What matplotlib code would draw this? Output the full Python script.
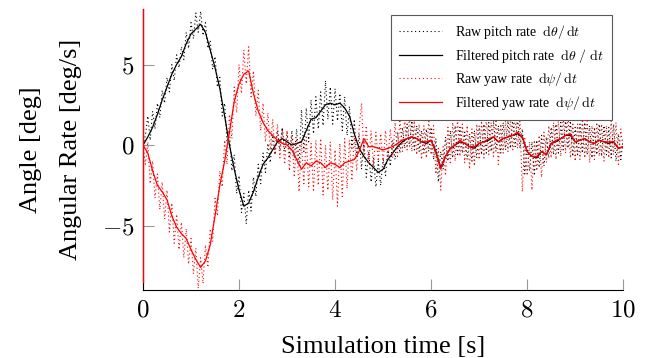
import numpy as np
import matplotlib
matplotlib.use('Agg')
import matplotlib.pyplot as plt

# ---- data (deg/s) ----
raw_dt = 0.05
filt_dt = 0.1

raw_pitch = [
    0.0, 0.6, 1.8, 0.3, 2.1, 1.0, 2.6, 1.7, 3.4, 2.6,
    4.2, 3.3, 5.0, 4.0, 5.6, 4.8, 6.1, 5.3, 7.0, 6.0,
    7.6, 6.6, 8.2, 7.0, 8.3, 6.8, 7.6, 6.0, 6.5, 4.7,
    5.5, 3.6, 4.2, 1.8, 2.6, 0.2, 0.9, -1.6, -0.6, -3.0,
    -1.9, -4.2, -3.0, -4.9, -2.8, -4.1, -2.0, -3.2, -1.2, -2.4,
    -0.5, -1.7, 0.1, -1.1, 0.6, -0.6, 0.9, -0.3, 1.1, -0.4,
    0.8, -0.7, 0.9, -0.8, 1.0, -1.3, 2.2, -0.4, 2.3, 0.2,
    2.8, 0.7, 3.0, 1.0, 3.3, 1.2, 4.0, 1.6, 3.6, 1.3,
    3.5, 1.5, 3.2, 0.9, 3.0, 0.6, 2.4, -0.2, 1.6, -0.8,
    0.7, -1.5, 0.2, -2.0, -0.4, -2.3, -0.8, -2.6, -1.0, -2.5,
    -0.8, -1.9, -0.2, -1.3, 0.3, -0.9, 0.8, -0.5, 1.1, -0.2,
    1.3, -0.1, 1.5, -0.3, 1.2, -0.4, 0.9, -0.5, 1.0, -0.4,
    1.1, -0.9, 0.4, -2.3, -0.4, -1.5, 0.5, -1.0, 0.9, -0.8,
    1.2, -0.7, 1.1, -0.5, 0.8, -0.9, 0.7, -1.0, 0.9, -0.8,
    1.2, -0.6, 1.3, -0.5, 1.4, -0.4, 1.5, -0.4, 1.2, -0.5,
    1.4, -0.3, 1.5, -0.2, 1.6, -0.1, 1.7, -0.2, 1.0, -1.8,
    -0.1, -1.6, 0.2, -1.9, 0.3, -1.4, 0.6, -1.3, 0.5, -0.8,
    1.1, -0.6, 1.3, -0.5, 1.4, -0.3, 1.6, -0.2, 1.5, -0.7,
    1.1, -0.6, 1.3, -0.5, 1.4, -0.6, 1.2, -0.8, 1.1, -0.6,
    1.3, -0.7, 1.2, -0.6, 1.1, -0.8, 1.3, -1.0, 0.7, -0.9,
    0.4,
]

raw_yaw = [
    0.0, -1.2, 0.2, -2.4, -1.0, -3.3, -1.8, -4.0, -2.3, -4.6,
    -2.8, -5.4, -3.6, -6.1, -4.3, -6.5, -4.8, -7.0, -5.2, -7.4,
    -5.8, -8.0, -6.4, -8.9, -7.0, -8.6, -6.2, -7.6, -5.2, -6.0,
    -3.3, -4.4, -1.6, -2.6, 0.3, -1.2, 1.9, 0.4, 3.6, 2.0,
    5.0, 3.2, 5.9, 3.8, 6.1, 3.0, 4.6, 1.8, 3.4, 0.9,
    2.6, 0.2, 2.0, -0.3, 1.6, -0.6, 1.3, -0.8, 1.0, -1.2,
    0.9, -1.6, 0.6, -2.0, 0.3, -2.9, 0.2, -2.4, 0.5, -2.6,
    0.1, -2.9, 0.3, -2.5, 0.4, -3.1, 0.0, -2.8, 0.2, -3.4,
    -0.3, -3.8, 0.1, -3.2, 0.4, -2.7, 0.3, -2.2, 0.6, -1.6,
    1.0, 2.6, -0.6, 1.2, -1.2, 0.9, -1.3, 0.8, -1.0, 0.7,
    -1.1, 0.9, -0.9, 1.0, -0.8, 1.4, -0.7, 1.6, -0.4, 1.7,
    -0.3, 1.8, -0.4, 1.5, -0.6, 1.3, -0.9, 1.2, -0.8, 1.6,
    -0.6, 1.2, -1.8, -0.2, -2.8, -0.1, -1.9, 1.1, -1.2, 1.4,
    -1.0, 1.6, -0.7, 1.3, -1.1, 1.2, -1.5, 1.0, -1.3, 1.3,
    -0.9, 1.5, -0.8, 1.7, -0.6, 1.4, -0.7, 1.6, -1.2, 1.3,
    -0.5, 1.5, -0.4, 1.7, -0.3, 1.8, -0.2, 1.6, -2.9, 0.4,
    -1.9, 0.2, -2.8, 0.3, -1.6, 0.6, -2.0, 0.8, -1.1, 1.2,
    -0.8, 1.4, -0.9, 1.6, -0.7, 1.8, -0.5, 1.9, -0.8, 1.4,
    -1.0, 1.3, -0.9, 1.6, -0.8, 1.5, -1.1, 1.2, -0.9, 1.4,
    -0.7, 1.3, -1.0, 1.2, -0.8, 1.5, -0.6, 1.4, -1.2, 1.0,
    -0.4,
]

filt_pitch = [
    0.0, 0.5, 1.1, 1.9, 2.8, 3.6, 4.4, 5.0, 5.5, 6.3,
    6.9, 7.2, 7.5, 7.0, 5.9, 4.8, 3.5, 1.8, 0.0, -1.5,
    -2.8, -3.8, -3.6, -2.9, -2.0, -1.2, -0.8, -0.3, 0.2, 0.4,
    0.2, 0.0, 0.1, 0.2, 0.9, 1.6, 1.7, 2.1, 2.5, 2.6,
    2.5, 2.6, 2.3, 1.8, 0.7, -0.2, -0.7, -1.1, -1.4, -1.7,
    -1.5, -0.9, -0.5, -0.1, 0.2, 0.4, 0.5, 0.4, 0.2, 0.1,
    0.3, -0.4, -1.4, -0.7, -0.2, 0.0, 0.2, 0.1, -0.1, -0.2,
    0.1, 0.2, 0.3, 0.5, 0.2, 0.4, 0.5, 0.6, 0.7, 0.5,
    -0.4, -0.7, -0.8, -0.4, -0.6, 0.1, 0.2, 0.4, 0.6, 0.6,
    0.2, 0.3, 0.4, 0.2, 0.1, 0.3, 0.2, 0.1, 0.2, -0.2,
    -0.1,
]

filt_yaw = [
    0.0, -0.5, -1.6, -2.5, -2.9, -3.4, -4.4, -5.1, -5.5, -5.8,
    -6.5, -7.1, -7.6, -7.2, -6.2, -4.4, -2.5, -1.0, 0.8, 2.7,
    3.8, 4.4, 4.6, 3.2, 2.1, 1.4, 0.9, 0.6, 0.3, 0.1,
    0.0, -0.3, -0.9, -1.5, -1.1, -1.3, -1.0, -1.1, -1.4, -1.1,
    -1.2, -1.4, -1.1, -1.0, -0.9, -0.4, 0.4, -0.1, -0.1, -0.2,
    -0.3, -0.2, -0.1, 0.1, 0.3, 0.4, 0.5, 0.4, 0.2, 0.2,
    0.3, -0.5, -1.5, -0.7, -0.2, 0.0, 0.3, 0.1, -0.1, -0.1,
    0.1, 0.2, 0.4, 0.5, 0.2, 0.4, 0.5, 0.6, 0.8, 0.5,
    -0.4, -0.7, -0.7, -0.4, -0.6, 0.1, 0.3, 0.4, 0.6, 0.7,
    0.2, 0.3, 0.4, 0.2, 0.1, 0.3, 0.2, 0.2, 0.2, -0.2,
    -0.1,
]

# initial transient of the filtered yaw at t = 0
yaw_spike_t = [0.0, 0.0]
yaw_spike = [8.45, -8.5]

x_ticks = [0, 2, 4, 6, 8, 10]
y_ticks = [-5, 0, 5]

labels = [
    r'Raw pitch rate  $\mathrm{d}\theta/\,\mathrm{d}t$',
    r'Filtered pitch rate  $\mathrm{d}\theta\ /\ \mathrm{d}t$',
    r'Raw yaw rate  $\mathrm{d}\psi/\,\mathrm{d}t$',
    r'Filtered yaw rate  $\mathrm{d}\psi/\,\mathrm{d}t$',
]


def main():
    plt.rcParams['font.family'] = ['Liberation Serif', 'DejaVu Serif']
    plt.rcParams['mathtext.fontset'] = 'cm'

    t_raw = np.arange(len(raw_pitch)) * raw_dt
    t_filt = np.arange(len(filt_pitch)) * filt_dt

    fig = plt.figure(figsize=(6.56, 3.58), dpi=100)
    ax = fig.add_axes([0.218, 0.19, 0.732, 0.785])

    ax.plot(t_raw, raw_pitch, color='black', linestyle=(0, (1, 2.5)), linewidth=0.8, label=labels[0])
    ax.plot(t_filt, filt_pitch, color='black', linewidth=0.9, label=labels[1])
    ax.plot(t_raw, raw_yaw, color='red', linestyle=(0, (1, 2.5)), linewidth=0.8, label=labels[2])
    ax.plot(t_filt, filt_yaw, color='red', linewidth=0.9, label=labels[3])
    ax.plot(yaw_spike_t, yaw_spike, color='red', linewidth=1.0, clip_on=False, zorder=5)

    ax.set_xlim(0, 10)
    ax.set_ylim(-9.0, 8.45)
    ax.spines['top'].set_visible(False)
    ax.spines['right'].set_visible(False)
    ax.set_xticks(x_ticks)
    ax.set_yticks(y_ticks)
    ax.set_xticklabels([f'${v}$' for v in x_ticks])
    ax.set_yticklabels([f'${v}$' for v in y_ticks])
    ax.tick_params(direction='in', length=8, width=0.8, color='0.6', labelsize=18, pad=6)
    ax.tick_params(axis='x', pad=7)

    ax.set_xlabel('Simulation time [s]', fontsize=19, labelpad=10)
    ax.set_ylabel('Angle [deg]\nAngular Rate [deg/s]', fontsize=19, linespacing=2.05)
    ax.yaxis.set_label_coords(-0.127, 0.5)

    leg = ax.legend(loc='upper right', bbox_to_anchor=(0.977, 0.979), borderaxespad=0,
                    fontsize=10, handlelength=3.1, handletextpad=0.9, frameon=True,
                    fancybox=False, edgecolor='0.35', framealpha=1, borderpad=0.6,
                    labelspacing=0.4)
    leg.get_frame().set_linewidth(0.8)

    fig.savefig('out.png', dpi=100)


if __name__ == "__main__":
    main()
